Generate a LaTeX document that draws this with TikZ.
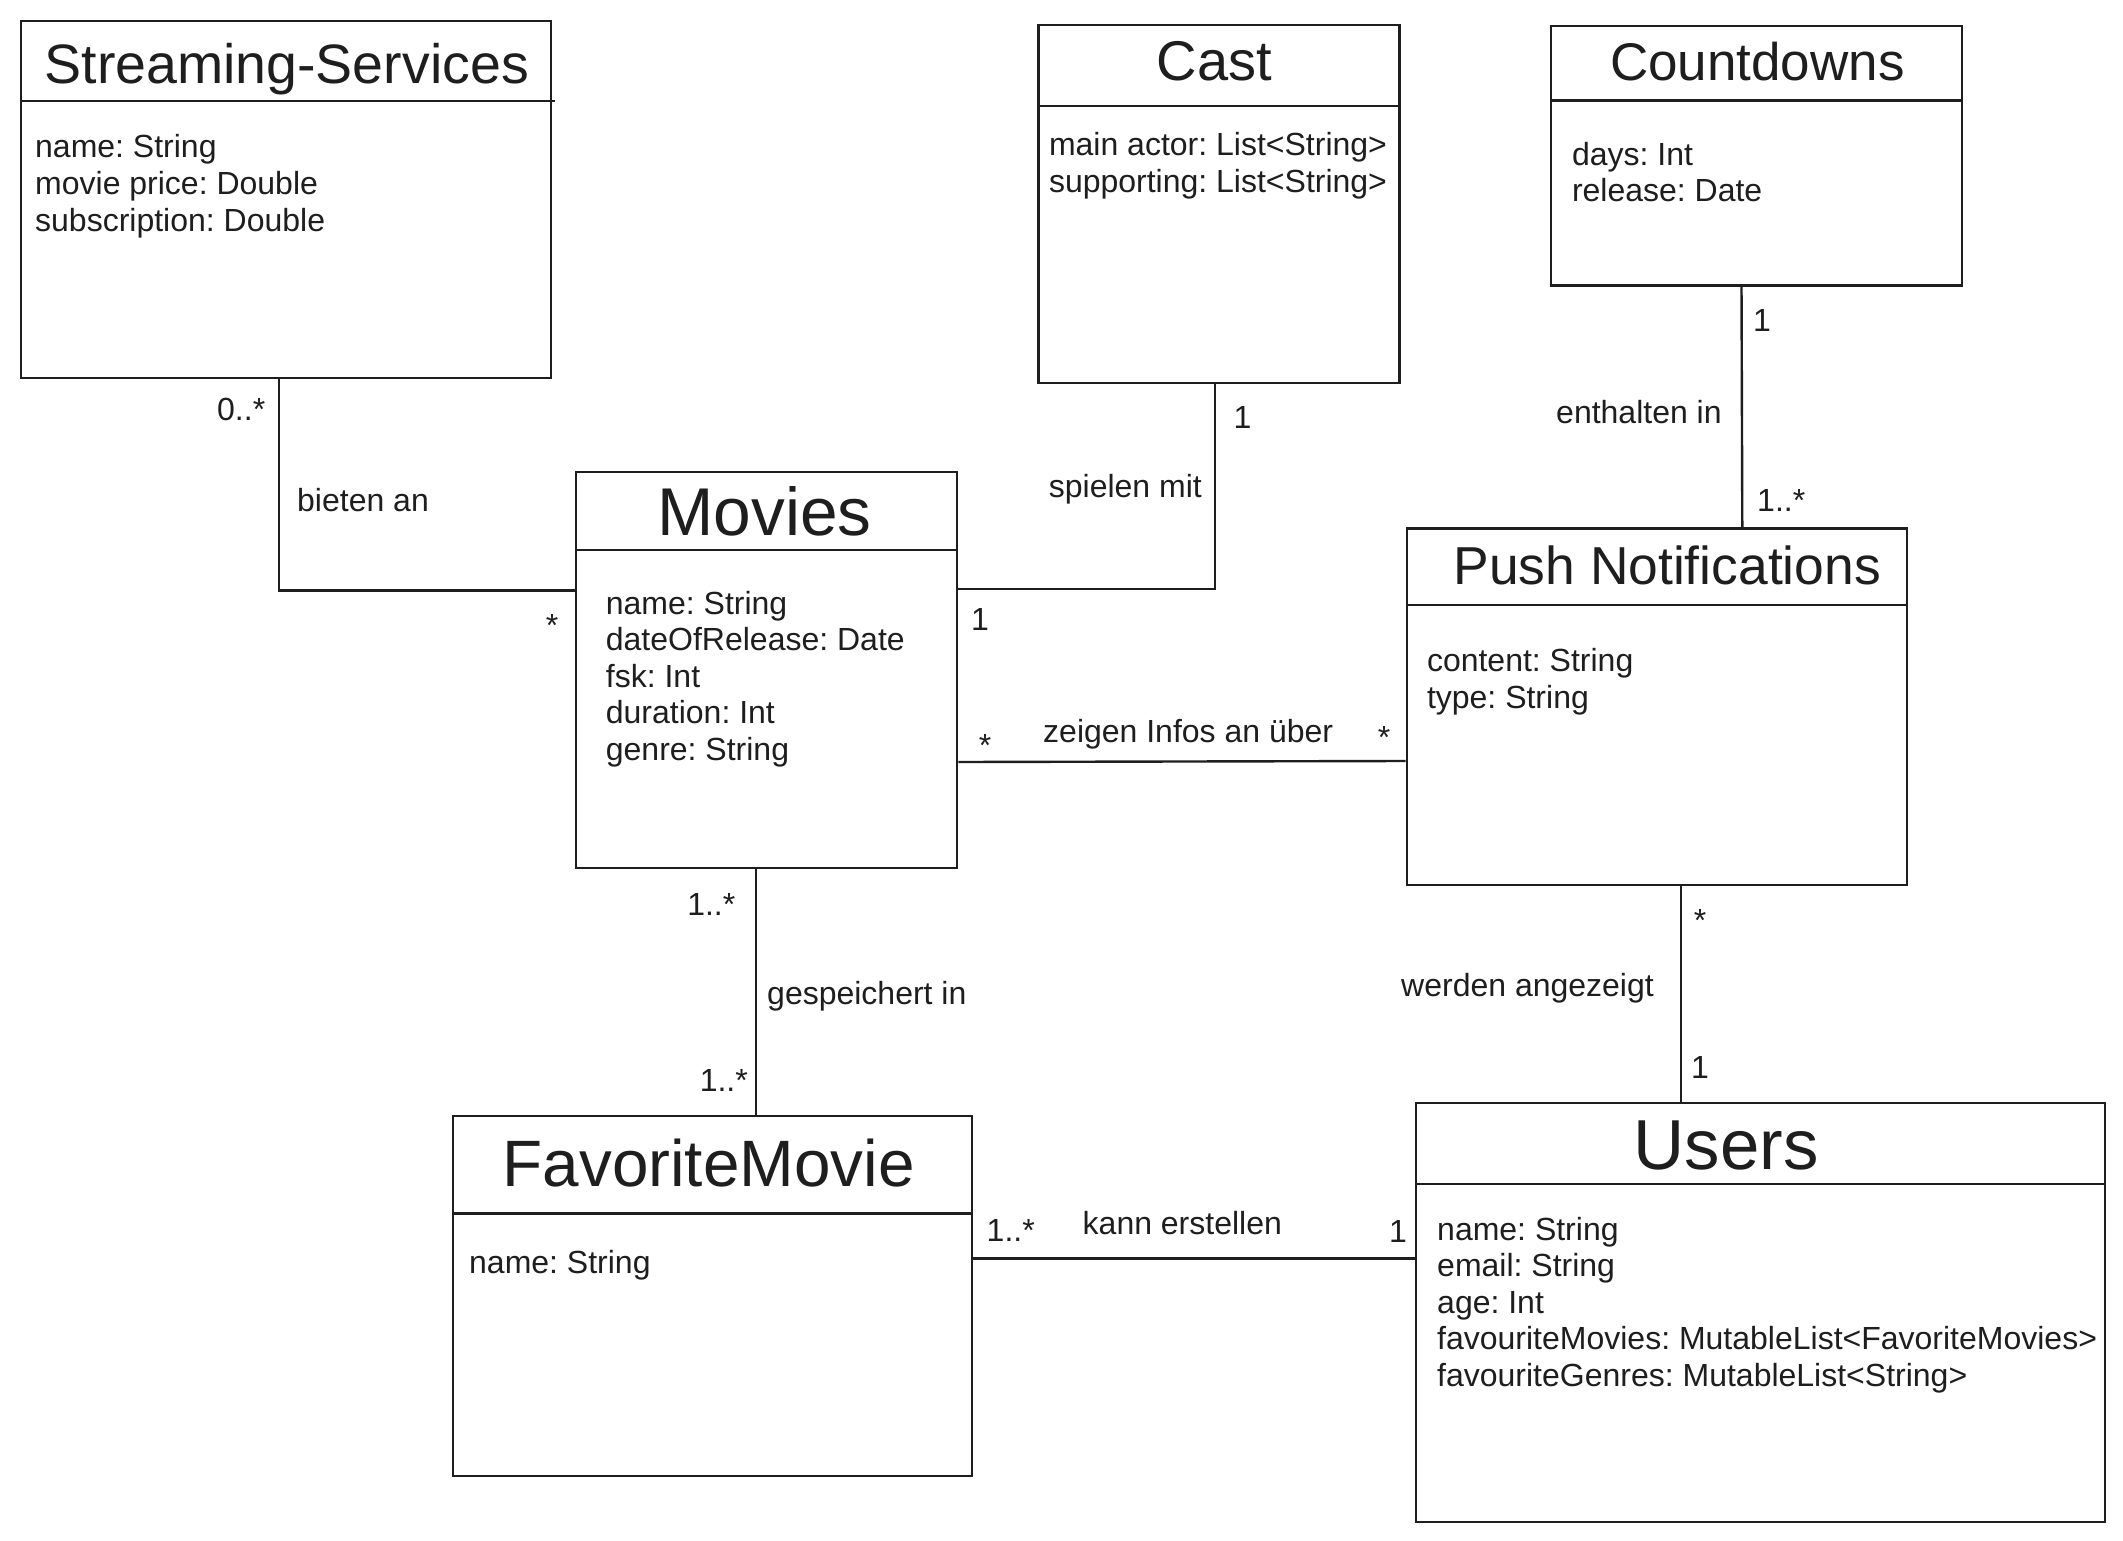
\documentclass[tikz,border=0pt]{standalone}
\usepackage{fontspec}
\setmainfont{Liberation Sans}
\frenchspacing
\definecolor{ink}{HTML}{1E1E1E}
\tikzset{
  box/.style={draw=ink, line width=2.4pt, anchor=north west, inner sep=0pt},
  conn/.style={draw=ink, line width=2.4pt},
  sep/.style={draw=ink, line width=2.4pt},
  attr/.style={inner sep=0pt, anchor=base west, text=ink, font=\fontsize{32}{36.6}\selectfont},
  lbl/.style={inner sep=0pt, text=ink, font=\fontsize{32}{36.6}\selectfont},
  ttl/.style={inner sep=0pt, anchor=base, text=ink},
}
\begin{document}
\begin{tikzpicture}[x=1pt, y=-1pt]
\useasboundingbox[fill=white] (0,0) rectangle (2123,1541);

% ---- class boxes ----
\node[box, minimum width=530.5pt, minimum height=357pt] (ss) at (19.5,20) {};
\node[box, minimum width=361pt, minimum height=357.5pt] (ca) at (1037.2,24) {};
\node[box, minimum width=411pt, minimum height=259.2pt] (cd) at (1550,25) {};
\node[box, minimum width=381.5pt, minimum height=396.2pt] (mv) at (574.5,470.5) {};
\node[box, minimum width=500.5pt, minimum height=356.7pt] (pn) at (1405.5,527.3) {};
\node[box, minimum width=518.6pt, minimum height=360pt] (fv) at (452,1115) {};
\node[box, minimum width=688.5pt, minimum height=419pt] (us) at (1415,1102) {};

% ---- header separators ----
\draw[sep] (19.5,101) -- (555,101);
\draw[sep] (ca.west |- 0,106) -- (ca.east |- 0,106);
\draw[sep] (cd.west |- 0,100.7) -- (cd.east |- 0,100.7);
\draw[sep] (mv.west |- 0,549.7) -- (mv.east |- 0,549.7);
\draw[sep] (pn.west |- 0,605) -- (pn.east |- 0,605);
\draw[sep] (fv.west |- 0,1213.3) -- (fv.east |- 0,1213.3);
\draw[sep] (us.west |- 0,1184) -- (us.east |- 0,1184);

% ---- titles ----
\node[ttl, font=\fontsize{55.5}{60}\selectfont] (tss) at (286.7,83.5) {Streaming-Services};
\node[ttl, font=\fontsize{56}{60}\selectfont] (tca) at (1214.5,81) {Cast};
\node[ttl, font=\fontsize{53}{60}\selectfont] (tcd) at (1757.3,81) {Countdowns};
\node[ttl, font=\fontsize{67.6}{72}\selectfont] (tmv) at (764.7,535.7) {Movies};
\node[ttl, font=\fontsize{53.4}{60}\selectfont] (tpn) at (1667.2,584.3) {Push Notifications};
\node[ttl, font=\fontsize{65.6}{70}\selectfont] (tfv) at (708.7,1186.7) {FavoriteMovie};
\node[ttl, font=\fontsize{70.8}{75}\selectfont] (tus) at (1726,1169) {Users};

% ---- attributes ----
\foreach \t [count=\i] in {name: String, movie price: Double, subscription: Double}
  \node[attr] (ssa\i) at (35,157.5+36.9*\i-36.9) {\t};
\foreach \t [count=\i] in {main actor: List<String>, supporting: List<String>}
  \node[attr] (caa\i) at (1048.8,155.7+36.6*\i-36.6) {\t};
\foreach \t [count=\i] in {days: Int, release: Date}
  \node[attr] (cda\i) at (1571.8,165.7+36*\i-36) {\t};
\foreach \t [count=\i] in {name: String, dateOfRelease: Date, fsk: Int, duration: Int, genre: String}
  \node[attr] (mva\i) at (605.7,614+36.5*\i-36.5) {\t};
\foreach \t [count=\i] in {content: String, type: String}
  \node[attr] (pna\i) at (1426.8,671.7+36.6*\i-36.6) {\t};
\node[attr] (fva1) at (469,1273.3) {name: String};
\foreach \t [count=\i] in {name: String, email: String, age: Int, favouriteMovies: MutableList<FavoriteMovies>, favouriteGenres: MutableList<String>}
  \node[attr] (usa\i) at (1437,1240+36.6*\i-36.6) {\t};

% ---- connectors ----
\draw[conn] ([xshift=259.2pt]ss.south west) |- ([yshift=-120pt]mv.north west);
\draw[conn] ([xshift=177.8pt]ca.south west) |- ([yshift=-118.5pt]mv.north east);
\draw[conn] ([xshift=191.5pt]cd.south west) -- ([xshift=336.8pt]pn.north west);
\draw[conn] ([yshift=-291.5pt]mv.north east) -- ([yshift=-233.7pt]pn.north west);
\draw[conn] ([xshift=275.5pt]pn.south west) -- ([xshift=266pt]us.north west);
\draw[conn] ([xshift=181.5pt]mv.south west) -- ([xshift=304pt]fv.north west);
\draw[conn] ([yshift=-143.3pt]fv.north east) -- ([yshift=-156.3pt]us.north west);

% ---- connector labels ----
\node[lbl, anchor=base west] (l1) at (217,420) {0..*};
\node[lbl, anchor=base west] (l2) at (297,511) {bieten an};
\node[lbl, anchor=base] (l3) at (552,636.5) {*};
\node[lbl, anchor=base] (l4) at (1242.5,428) {1};
\node[lbl, anchor=base east] (l5) at (1202,497) {spielen mit};
\node[lbl, anchor=base] (l6) at (980,630) {1};
\node[lbl, anchor=base] (l7) at (985,756) {*};
\node[lbl, anchor=base west] (l8) at (1043,742) {zeigen Infos an über};
\node[lbl, anchor=base] (l9) at (1384,748) {*};
\node[lbl, anchor=base] (l10) at (1762,331) {1};
\node[lbl, anchor=base west] (l11) at (1556,423.3) {enthalten in};
\node[lbl, anchor=base west] (l12) at (1757,511.7) {1..*};
\node[lbl, anchor=base] (l13) at (1700,931.5) {*};
\node[lbl, anchor=base west] (l14) at (1401,996.7) {werden angezeigt};
\node[lbl, anchor=base] (l15) at (1700,1078) {1};
\node[lbl, anchor=base east] (l16) at (735.5,915) {1..*};
\node[lbl, anchor=base west] (l17) at (767,1004) {gespeichert in};
\node[lbl, anchor=base east] (l18) at (748,1091.7) {1..*};
\node[lbl, anchor=base west] (l19) at (986.5,1241.7) {1..*};
\node[lbl, anchor=base west] (l20) at (1082.5,1234) {kann erstellen};
\node[lbl, anchor=base] (l21) at (1398,1242) {1};
\end{tikzpicture}
\end{document}
